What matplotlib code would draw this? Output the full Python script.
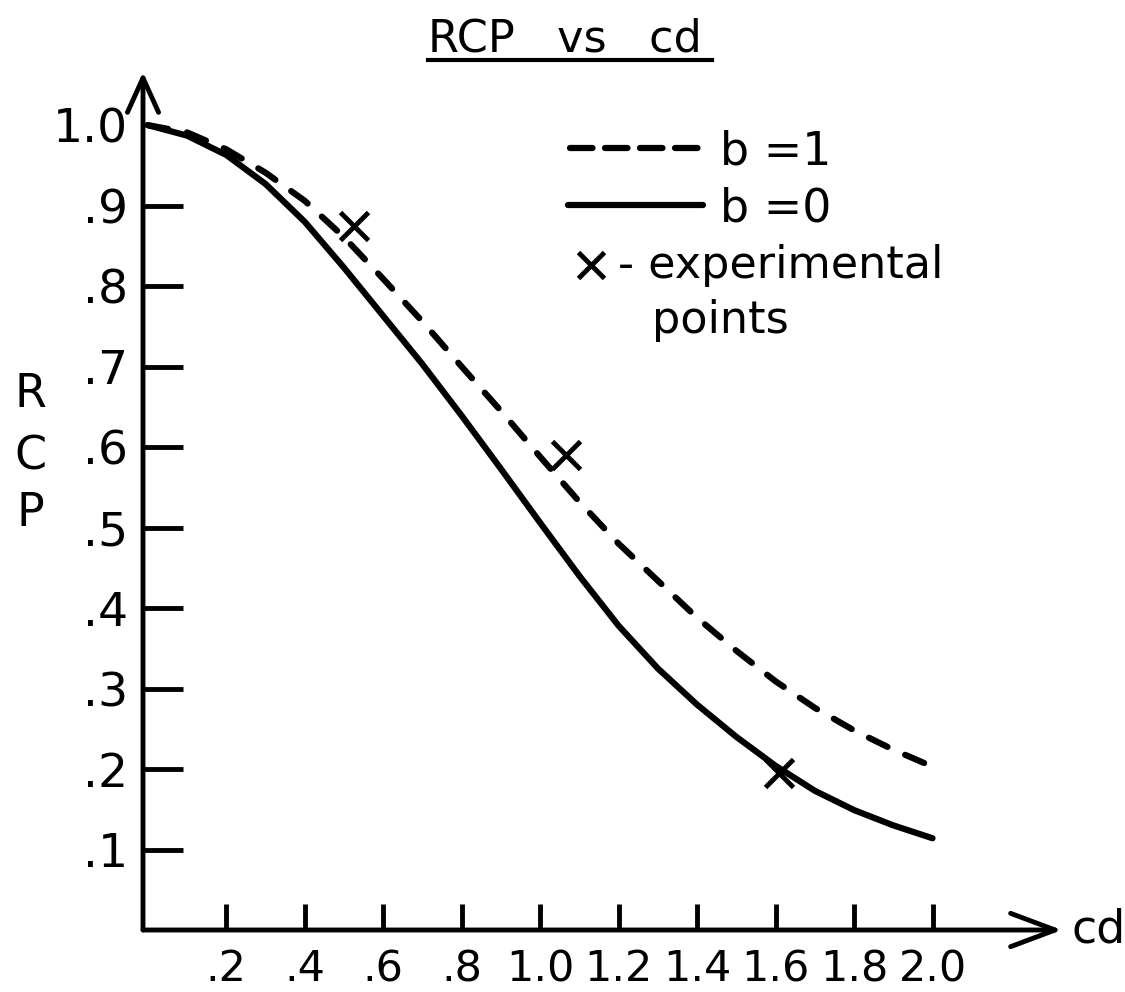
import matplotlib
matplotlib.use('Agg')
import matplotlib.pyplot as plt
from matplotlib.lines import Line2D

# values (every 0.1 in cd)
cd = [0.0, 0.1, 0.2, 0.3, 0.4, 0.5, 0.6, 0.7, 0.8, 0.9, 1.0,
      1.1, 1.2, 1.3, 1.4, 1.5, 1.6, 1.7, 1.8, 1.9, 2.0]
rcp_b1 = [1.0, 0.991, 0.970, 0.941, 0.906, 0.861, 0.809, 0.756, 0.700, 0.645, 0.588,
          0.532, 0.480, 0.434, 0.388, 0.347, 0.309, 0.276, 0.248, 0.224, 0.203]
rcp_b0 = [1.0, 0.987, 0.963, 0.927, 0.880, 0.823, 0.763, 0.703, 0.639, 0.573, 0.506,
          0.440, 0.378, 0.325, 0.280, 0.240, 0.204, 0.173, 0.149, 0.130, 0.114]

# experimental points
exp_cd = [0.525, 1.065, 1.61]
exp_rcp = [0.875, 0.59, 0.195]

xtick_vals = [0.2, 0.4, 0.6, 0.8, 1.0, 1.2, 1.4, 1.6, 1.8, 2.0]
xtick_labels = ['.2', '.4', '.6', '.8', '1.0', '1.2', '1.4', '1.6', '1.8', '2.0']
ytick_vals = [0.1, 0.2, 0.3, 0.4, 0.5, 0.6, 0.7, 0.8, 0.9, 1.0]
ytick_labels = ['.1', '.2', '.3', '.4', '.5', '.6', '.7', '.8', '.9', '1.0']

W, H = 1125, 992
plt.rcParams['font.family'] = ['DejaVu Sans']


def fx(px):
    return px / W


def fy(py):
    return 1 - py / H


fig = plt.figure(figsize=(W / 100, H / 100), dpi=100)
ax = fig.add_axes([fx(143), 62 / H, 919 / W, 858 / H])
ax.set_xlim(-0.012, 2.33)
ax.set_ylim(0, 1.066)
for s in ax.spines.values():
    s.set_visible(False)

# axes with open arrow heads
xarrow = dict(arrowstyle='->,head_length=0.8,head_width=0.3', lw=3.5,
              color='black', shrinkA=0, shrinkB=0, mutation_scale=40)
yarrow = dict(arrowstyle='->,head_length=0.62,head_width=0.28', lw=3.5,
              color='black', shrinkA=0, shrinkB=0, mutation_scale=40)
ax.annotate('', xy=(1, 0), xytext=(0, 0), xycoords='axes fraction',
            textcoords='axes fraction', arrowprops=xarrow)
ax.annotate('', xy=(0, 1), xytext=(0, 0), xycoords='axes fraction',
            textcoords='axes fraction', arrowprops=yarrow)

ax.plot(cd, rcp_b0, color='black', lw=4.5, solid_capstyle='round',
        solid_joinstyle='round', clip_on=False)
ax.plot(cd, rcp_b1, color='black', lw=4.5, dashes=(3.3, 3.1),
        dash_capstyle='round', clip_on=False)
ax.plot(exp_cd, exp_rcp, ls='none', marker='x', ms=20, mew=3.5, color='black')

ax.set_xticks(xtick_vals)
ax.set_xticklabels(xtick_labels, fontsize=31)
ax.set_yticks(ytick_vals)
ax.set_yticklabels(ytick_labels, fontsize=34)
ax.tick_params(axis='x', direction='in', length=19, width=3.5, pad=13)
ax.tick_params(axis='y', direction='in', length=29, width=3.5, pad=11)
ax.yaxis.get_major_ticks()[-1].tick1line.set_visible(False)

ax.text(1.01, 0, 'cd', transform=ax.transAxes, fontsize=33, va='center',
        ha='left')

# y label written as stacked letters
for letter, base in zip(['R', 'C', 'P'], [407, 469, 526]):
    fig.text(fx(30), fy(base), letter, fontsize=33, ha='center', va='baseline')

# title, underlined
title = fig.text(fx(428), fy(52), 'RCP   vs   cd', fontsize=32, va='baseline')
fig.canvas.draw()
bb = title.get_window_extent()
fig.add_artist(Line2D([bb.x0 / W, (bb.x1 + 10) / W], [fy(60)] * 2,
                      transform=fig.transFigure, color='black', lw=3))

# hand made legend
fig.add_artist(Line2D([fx(570), fx(703)], [fy(148)] * 2, transform=fig.transFigure,
                      color='black', lw=4.5, dashes=(3.6, 2.0), dash_capstyle='round'))
fig.text(fx(720), fy(165), 'b =1', fontsize=33, va='baseline')
fig.add_artist(Line2D([fx(568), fx(703)], [fy(205)] * 2, transform=fig.transFigure,
                      color='black', lw=4.5, solid_capstyle='round'))
fig.text(fx(720), fy(222), 'b =0', fontsize=33, va='baseline')
fig.add_artist(Line2D([fx(591)], [fy(265)], transform=fig.transFigure, ls='none',
                      marker='x', ms=19, mew=3.5, color='black'))
fig.text(fx(618), fy(278), '- experimental', fontsize=32, va='baseline')
fig.text(fx(652), fy(333), 'points', fontsize=32, va='baseline')

fig.savefig('out.png', dpi=100)
